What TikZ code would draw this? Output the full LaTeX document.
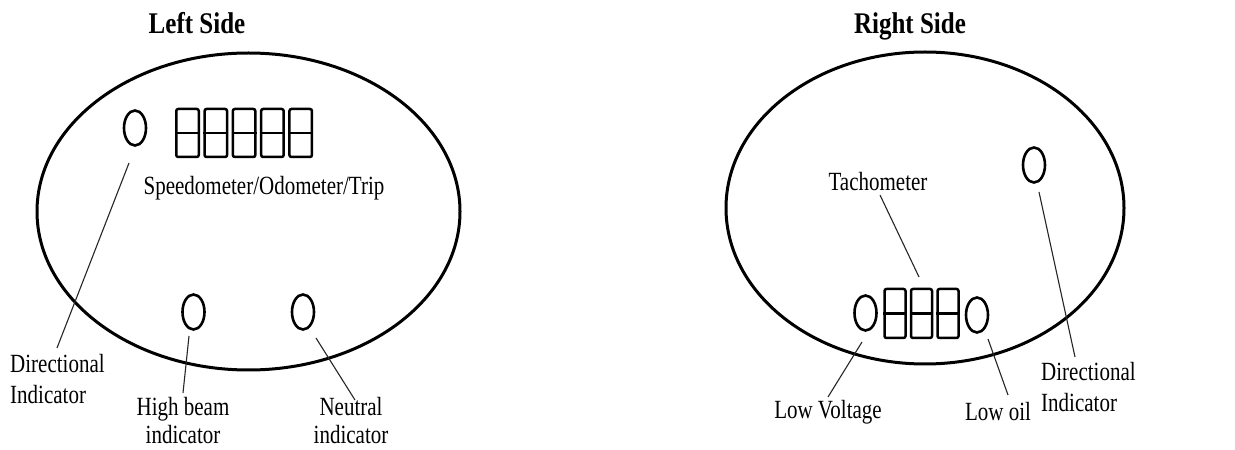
\documentclass[tikz,border=0pt]{standalone}
\usepackage{fontspec}
\setmainfont{Liberation Serif}
\usepackage{graphicx}
\usetikzlibrary{shapes.geometric}
\newcommand{\stretchtxt}[1]{\scalebox{1}[1.25]{#1}}
\tikzset{
  panel/.style={draw, line width=3pt},
  lamp/.style={draw, ellipse, line width=2.6pt, minimum width=22pt, minimum height=35pt, inner sep=0pt},
  digit/.style={draw, rectangle, rounded corners=2pt, line width=2.5pt, minimum width=22.5pt, minimum height=48pt, inner sep=0pt},
  lead/.style={line width=1.1pt, black!85},
  lbl/.style={inner sep=0pt, font=\fontsize{21}{25}\selectfont},
  lblt/.style={inner sep=0pt, font=\fontsize{21}{22.5}\selectfont},
  ttl/.style={inner sep=0pt, anchor=base, font=\fontsize{25}{30}\selectfont\bfseries},
}
\begin{document}
\begin{tikzpicture}[x=1pt,y=1pt]
\useasboundingbox (0,0) rectangle (1235,450);
\fill[white] (0,0) rectangle (1235,450);
% ---------- Left side ----------
\node[ttl] (tL) at (197,416) {\scalebox{1}[1.2]{Left Side}};
\draw[panel] (248.5,238.5) ellipse [x radius=211.5, y radius=158.5];
\node[lamp] (dirL) at (135,322) {};
\foreach \i in {0,...,4}{
  \node[digit] (s\i) at ({187.5+28.3*\i},317) {};
  \draw[line width=2.5pt] (s\i.west) -- (s\i.east);
}
\node[lbl] (speed) at (264,262) {\stretchtxt{Speedometer/Odometer/Trip}};
\node[lamp] (hb) at (193.5,138) {};
\node[lamp] (neu) at (303,138) {};
\node[lbl, anchor=west] (dirLtxt) at (10,68) {\stretchtxt{\begin{tabular}{@{}l@{}}Directional\\Indicator\end{tabular}}};
\node[lblt] (hbtxt) at (183,26) {\stretchtxt{\begin{tabular}{@{}c@{}}High beam\\indicator\end{tabular}}};
\node[lblt] (neutxt) at (351,26) {\stretchtxt{\begin{tabular}{@{}c@{}}Neutral\\indicator\end{tabular}}};
\coordinate (a1) at (129,287); \coordinate (a2) at (57,102);
\coordinate (b1) at (189,114); \coordinate (b2) at (183,57);
\coordinate (c1) at (316,112); \coordinate (c2) at (355,50);
\draw[lead] (a1) -- (a2);
\draw[lead] (b1) -- (b2);
\draw[lead] (c1) -- (c2);
% ---------- Right side ----------
\node[ttl] (tR) at (910,416) {\scalebox{1}[1.2]{Right Side}};
\draw[panel] (925,242) ellipse [x radius=199, y radius=156];
\node[lamp] (dirR) at (1034,285) {};
\node[lamp] (lv) at (865.5,137) {};
\node[lamp] (lo) at (977,135) {};
\foreach \i/\xx in {0/895,1/921.5,2/948}{
  \node[digit, minimum width=21pt, minimum height=49pt] (t\i) at (\xx,136.5) {};
  \draw[line width=2.5pt] (t\i.west) -- (t\i.east);
}
\node[lbl] (tach) at (878,268) {\stretchtxt{Tachometer}};
\node[lbl] (lvtxt) at (828,38) {\stretchtxt{Low Voltage}};
\node[lbl] (lotxt) at (998,38) {\stretchtxt{Low oil}};
\node[lbl, anchor=west] (dirRtxt) at (1041,60) {\stretchtxt{\begin{tabular}{@{}l@{}}Directional\\Indicator\end{tabular}}};
\coordinate (d1) at (1039,258); \coordinate (d2) at (1075,93);
\coordinate (e1) at (880,255); \coordinate (e2) at (919,173);
\coordinate (f1) at (862,108); \coordinate (f2) at (828,53);
\coordinate (g1) at (988,111); \coordinate (g2) at (1008,55);
\draw[lead] (d1) -- (d2);
\draw[lead] (e1) -- (e2);
\draw[lead] (f1) -- (f2);
\draw[lead] (g1) -- (g2);
\end{tikzpicture}
\end{document}
